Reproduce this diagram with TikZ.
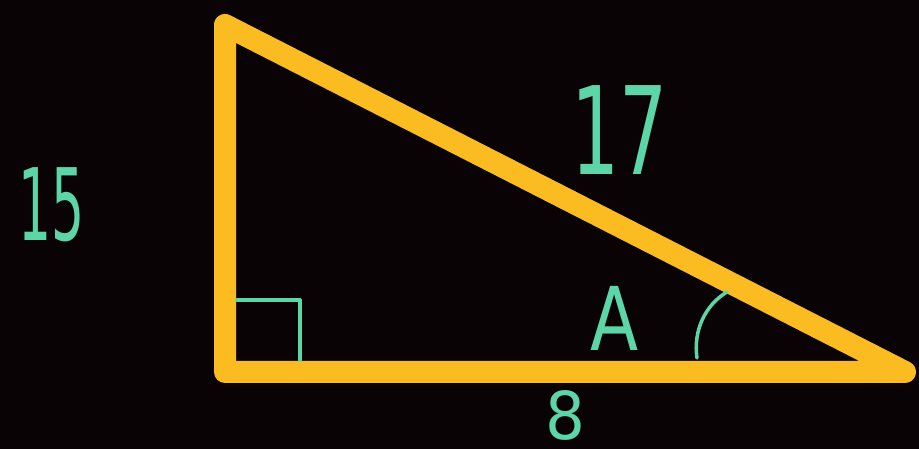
\documentclass[tikz,border=0pt]{standalone}
\usepackage{fontspec}
\setmainfont{DejaVu Sans}
\definecolor{tri}{RGB}{250,188,32}
\definecolor{ink}{RGB}{92,214,168}
\definecolor{bg}{RGB}{10,3,5}
\tikzset{
  lbl/.style={text=ink, inner sep=0pt},
  side/.style={draw=tri, line width=22pt, line join=round, line cap=round},
  inkline/.style={draw=ink, line width=4pt, line join=round, line cap=round}
}
\begin{document}
\begin{tikzpicture}[x=1pt,y=1pt]
\fill[bg] (0,0) rectangle (919,449);
\useasboundingbox (0,0) rectangle (919,449);
\coordinate (T) at (225,424);
\coordinate (B) at (225,77);
\coordinate (R) at (905,77);
\path[side] (T) -- (B) -- (R) -- cycle;
\coordinate (m1) at (237,149);
\coordinate (m2) at (300,149);
\coordinate (m3) at (300,89);
\path[inkline] (m1) -- (m2) -- (m3);
\coordinate (a1) at (727,157);
\coordinate (a2) at (697,91);
\path[inkline, line width=3.5pt] (a1) .. controls (705,144) and (693,118) .. (a2);
\node[lbl] (s15) at (52,244) {\scalebox{0.52}[1]{\fontsize{100}{100}\selectfont 15}};
\node[lbl] (s17) at (620,319) {\scalebox{0.62}[1]{\fontsize{122}{122}\selectfont 17}};
\node[lbl] (sA) at (615,131) {\scalebox{0.8}[1]{\fontsize{88}{88}\selectfont A}};
\node[lbl] (s8) at (565,34) {\scalebox{0.95}[1]{\fontsize{66}{66}\selectfont 8}};
\end{tikzpicture}
\end{document}
